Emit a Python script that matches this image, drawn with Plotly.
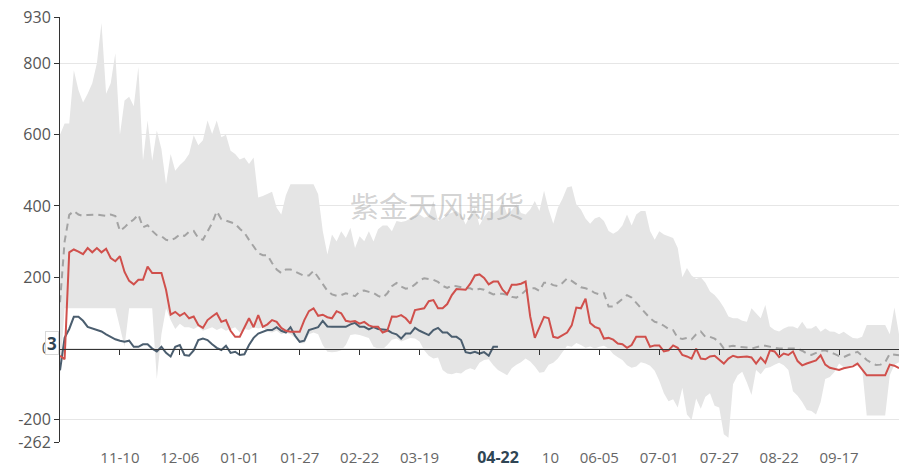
import pandas as pd
import plotly.graph_objects as go

# Two-day sampling from 10-15 through 10-13 of the following (leap) year
dates = pd.date_range("2023-10-15", "2024-10-13", freq="2D").strftime("%m-%d").tolist()

# Historical range (lower / upper bound)
band_low = [
    -75, 113, 113, 113, 113, 113, 113, 113, 113, 113,
    113, 113, 113, 60, 5, 113, 113, 113, 113, 113,
    113, -85, 40, 113, 80, 55, 70, 60, 60, 55,
    62, 50, 55, 60, 52, 58, 50, 55, 60, 45,
    55, 52, 60, 56, 60, 47, 45, 50, 40, 45,
    40, 30, 15, 15, 40, 45, 40, 10, -9, -10,
    -9, -5, 10, 38, 40, 38, 35, 30, 5, 0,
    -2, 10, 25, 28, 20, 25, 30, 28, 20, -5,
    -20, -28, -25, -60, -70, -72, -68, -70, -60, -55,
    -60, -40, -32, -30, -47, -60, -68, -75, -55, -45,
    -38, -28, -36, -50, -68, -66, -45, -40, -28, -10,
    8, 5, 16, 10, 2, 6, 0, 5, 8, 0,
    -15, -24, -32, -47, -54, -50, -38, -42, -48, -62,
    -90, -125, -148, -142, -165, -110, -185, -200, -140, -169,
    -135, -125, -160, -165, -240, -250, -100, -75, -65, -95,
    -130, -60, -72, -55, -52, -45, -40, -47, -60, -120,
    -132, -150, -172, -175, -185, -150, -85, -80, -66, -42,
    -52, -50, -45, -47, -55, -188, -188, -188, -188, -188,
    -75, -45, -38,
]
band_high = [
    600, 631, 631, 781, 725, 690, 715, 744, 800, 913,
    715, 744, 828, 600, 696, 706, 680, 790, 527, 640,
    527, 612, 560, 461, 546, 499, 515, 527, 546, 598,
    570, 584, 640, 602, 640, 593, 600, 555, 546, 530,
    536, 518, 536, 424, 428, 433, 440, 395, 376, 430,
    461, 461, 461, 461, 461, 461, 433, 330, 264, 320,
    300, 329, 310, 339, 282, 315, 301, 329, 300, 335,
    345, 345, 329, 358, 355, 358, 365, 372, 376, 367,
    372, 414, 358, 365, 376, 380, 386, 376, 348, 376,
    395, 345, 370, 386, 380, 388, 414, 376, 388, 405,
    380, 376, 390, 414, 386, 443, 390, 350, 395, 420,
    452, 455, 405, 390, 365, 350, 365, 370, 358, 330,
    322, 330, 345, 376, 345, 376, 386, 386, 330, 305,
    329, 320, 315, 310, 282, 200, 226, 205, 195, 200,
    185, 160, 150, 135, 115, 90, 85, 85, 78, 75,
    113, 100, 85, 122, 62, 52, 48, 56, 62, 62,
    56, 75, 56, 56, 64, 47, 56, 48, 47, 40,
    47, 38, 30, 28, 33, 66, 66, 66, 66, 66,
    40, 115, 40,
]
# Historical average
mean_line = [
    130, 300, 375, 386, 376, 372, 375, 376, 376, 374,
    372, 376, 372, 330, 340, 353, 362, 376, 340, 346,
    330, 318, 315, 305, 303, 310, 320, 316, 328, 330,
    310, 305, 330, 352, 385, 363, 359, 355, 350, 336,
    325, 305, 285, 268, 262, 262, 240, 222, 212, 222,
    222, 216, 209, 204, 205, 218, 200, 180, 162, 152,
    148, 150, 155, 152, 147, 160, 163, 159, 156, 148,
    143, 155, 175, 184, 174, 168, 170, 180, 192, 197,
    194, 193, 187, 176, 170, 177, 175, 171, 169, 169,
    163, 168, 165, 158, 152, 154, 154, 151, 145, 143,
    151, 163, 169, 169, 162, 185, 185, 178, 175, 184,
    197, 190, 180, 172, 169, 165, 156, 152, 155, 118,
    118, 128, 140, 150, 143, 128, 112, 98, 85, 75,
    72, 64, 55, 52, 30, 27, 30, 26, 40, 48,
    33, 33, 28, 18, 0, 6, 8, 5, 5, 3,
    0, 4, 7, 8, 5, 2, 0, 0, 0, 0,
    0, -6, -14, -18, -11, -6, -5, -9, -15, -21,
    -24, -18, -13, -9, -20, -32, -40, -46, -45, -38,
    -15, -16, -19,
]
# Previous season
red_series = [
    -20, -30, 270, 278, 272, 265, 282, 270, 282, 270,
    280, 254, 245, 259, 215, 190, 180, 193, 193, 230,
    212, 212, 212, 165, 95, 103, 92, 100, 85, 90,
    66, 58, 80, 90, 99, 75, 80, 50, 33, 33,
    60, 85, 60, 94, 61, 68, 80, 75, 58, 50,
    47, 47, 47, 80, 105, 113, 92, 95, 88, 85,
    105, 99, 78, 75, 77, 70, 75, 65, 61, 61,
    45, 50, 90, 89, 94, 85, 70, 108, 110, 113,
    133, 136, 113, 113, 125, 150, 167, 165, 165, 182,
    205, 208, 198, 180, 188, 188, 165, 152, 179, 179,
    182, 188, 90, 30, 60, 89, 85, 33, 30, 38,
    45, 65, 115, 113, 140, 72, 61, 56, 28, 30,
    25, 14, 12, 2, 10, 33, 33, 33, 5, 9,
    9, -8, -5, 9, 2, -18, -22, -28, 0, -28,
    -30, -22, -20, -32, -42, -28, -20, -24, -24, -22,
    -25, -42, -25, -40, -5, -8, -24, -14, -18, -8,
    -35, -47, -42, -38, -33, -19, -45, -54, -56, -60,
    -55, -52, -50, -42, -60, -75, -75, -75, -75, -75,
    -45, -48, -55,
]
# Current season (runs up to 04-22)
slate_series = [
    -61, 30, 55, 89, 89, 78, 61, 56, 52, 48,
    40, 33, 26, 22, 19, 22, 5, 5, 12, 12,
    0, -8, 5, -12, -22, 5, 10, -18, -20, -5,
    24, 28, 24, 12, 2, -4, 8, -12, -9, -18,
    -16, 10, 30, 42, 48, 52, 52, 60, 50, 45,
    60, 36, 19, 22, 52, 56, 60, 78, 62, 61,
    61, 61, 61, 68, 72, 61, 61, 54, 60, 55,
    54, 52, 44, 40, 28, 42, 42, 58, 50, 45,
    38, 52, 58, 45, 45, 33, 33, 24, -10, -13,
    -9, -14, -10, -20, 5, 5,
]

tick_idx = list(range(13, 170, 13))
tick_labels = [dates[j] for j in tick_idx]
y_ticks = [-262, -200, 0, 200, 400, 600, 800, 930]
y_min, y_max = y_ticks[0], y_ticks[-1]
pointer_date = "04-22"
pointer_value = 3
watermark = "紫金天风期货"

BAND = "#e5e5e5"
RED = "#d0504c"
SLATE = "#4b5e6f"
DASH = "#a3a3a3"
AXIS = "#333333"
LABEL = "#666666"
POINTER = "#2f4554"

# Bottom labels: the pointer label covers 04-14, so that slot stays blank
bottom_text = ["" if abs(tick_idx[n] - dates.index(pointer_date)) < 6 else t
               for n, t in enumerate(tick_labels)]

fig = go.Figure()
fig.add_trace(go.Scatter(x=dates, y=band_low, mode="lines", line=dict(width=0, color=BAND),
                         showlegend=False, name="最小值", hoverinfo="skip"))
fig.add_trace(go.Scatter(x=dates, y=band_high, mode="lines", line=dict(width=0, color=BAND),
                         fill="tonexty", fillcolor=BAND, showlegend=False, name="最大值"))
fig.add_trace(go.Scatter(x=dates, y=mean_line, mode="lines",
                         line=dict(color=DASH, width=2, dash="7px,5px"),
                         showlegend=False, name="均值"))
fig.add_trace(go.Scatter(x=dates[:len(slate_series)], y=slate_series, mode="lines",
                         line=dict(color=SLATE, width=2), showlegend=False, name="本季"))
# Drawn on the zero-line axis (same positions, index based) so it sits on top
fig.add_trace(go.Scatter(x=list(range(len(red_series))), y=red_series, mode="lines",
                         xaxis="x2", line=dict(color=RED, width=2),
                         showlegend=False, name="上季"))

font_family = "Open Sans, Noto Sans CJK SC, sans-serif"

fig.update_layout(
    width=900, height=468,
    margin=dict(l=60, r=1, t=17, b=26),
    paper_bgcolor="white", plot_bgcolor="white",
    font=dict(family=font_family, size=14, color=LABEL),
    xaxis=dict(
        type="category", range=[0, len(dates) - 1], automargin=False,
        tickvals=tick_labels, ticktext=bottom_text,
        ticks="", showline=False, showgrid=False, zeroline=False,
        tickfont=dict(size=15, color=LABEL), ticklabelstandoff=5,
    ),
    xaxis2=dict(
        overlaying="x", anchor="free", position=(0 - y_min) / (y_max - y_min),
        type="linear", range=[0, len(dates) - 1], tickvals=tick_idx, automargin=False,
        ticks="outside", ticklen=5, tickcolor=AXIS, tickwidth=1,
        showline=True, linecolor=AXIS, linewidth=1,
        showticklabels=False, showgrid=False, zeroline=False,
    ),
    yaxis=dict(
        range=[y_min, y_max], tickvals=y_ticks, ticktext=[str(v) for v in y_ticks],
        automargin=False,
        showgrid=True, gridcolor="#e6e6e6", gridwidth=1, zeroline=False,
        showline=True, linecolor=AXIS, linewidth=1,
        ticks="outside", ticklen=5, tickcolor=AXIS,
        tickfont=dict(size=16, color="#555555"),
    ),
    annotations=[
        dict(text=watermark, xref="paper", yref="paper", x=0.449, y=0.558,
             showarrow=False, font=dict(family="Noto Sans CJK SC", size=29,
                                        color="rgba(150,150,150,0.42)")),
        dict(text="<b>%s</b>" % pointer_date, xref="x", yref="paper",
             x=dates.index(pointer_date), y=0, yanchor="top", yshift=-3,
             showarrow=False, width=88, borderpad=0, bgcolor="white",
             font=dict(size=16, color=POINTER)),
        dict(text="<b>%d</b>" % pointer_value, xref="paper", yref="y",
             x=0, y=pointer_value, xanchor="right", yanchor="middle", yshift=5, xshift=-1,
             showarrow=False, width=10, height=20, bgcolor="white",
             bordercolor="#d8d8d8", borderwidth=1, borderpad=1,
             font=dict(size=17, color=POINTER)),
    ],
)

fig.write_html("out.html")
